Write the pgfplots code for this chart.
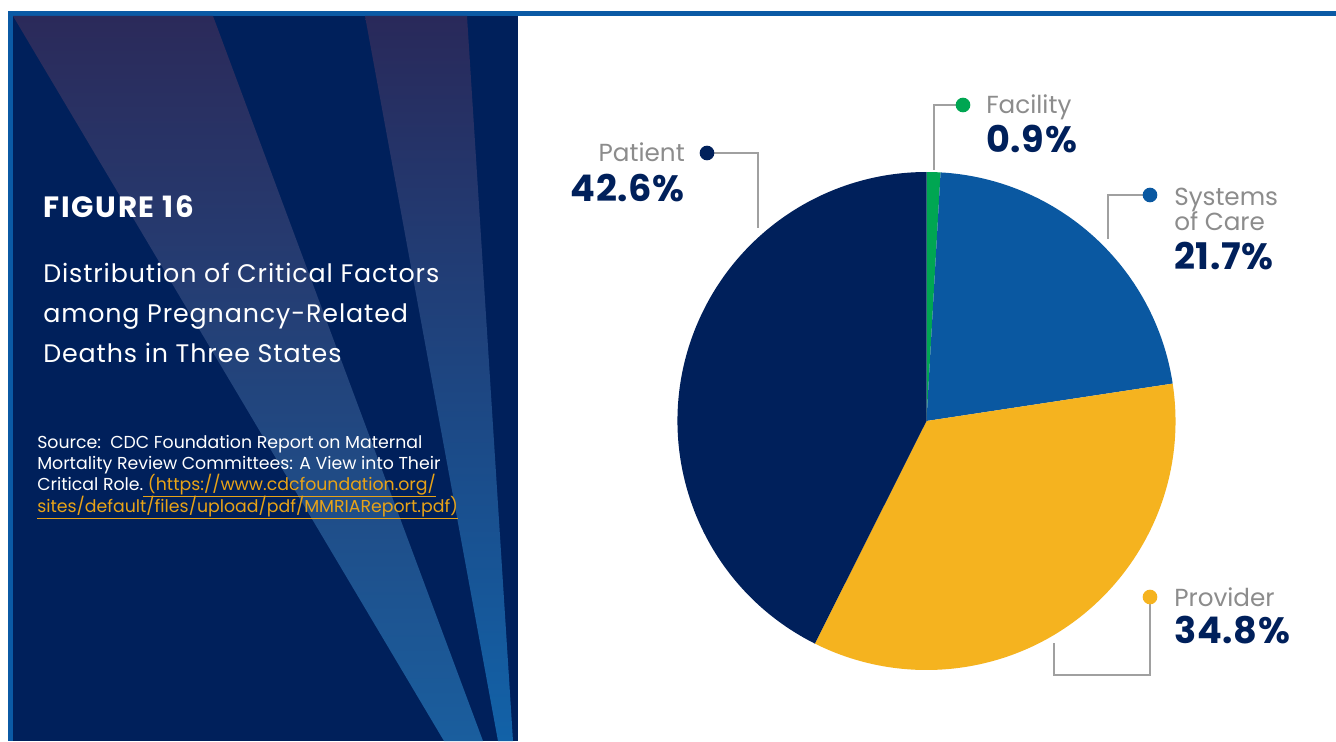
\documentclass[border=0pt]{standalone}
\usepackage{pgfplots}
\pgfplotsset{compat=1.18}
\usepackage{pgfplotstable}
\usepackage{fontspec}
\setmainfont{Poppins}
\newfontfamily\widefont{Poppins}[LetterSpace=3.5]
\newfontfamily\figfont{Poppins}[LetterSpace=6]
\newfontfamily\pctfont{Poppins}[LetterSpace=2]

\definecolor{navy}{HTML}{00205B}
\definecolor{topblue}{HTML}{0B5AA5}
\definecolor{pieblue}{HTML}{0A58A1}
\definecolor{pieyellow}{HTML}{F5B31F}
\definecolor{piegreen}{HTML}{00A652}
\definecolor{labgray}{HTML}{8C8C8C}
\definecolor{leader}{HTML}{A0A0A0}
\definecolor{linkgold}{HTML}{E8A317}
\definecolor{beamtop}{HTML}{2B2A5A}
\definecolor{beambot}{HTML}{1A5E9E}
\definecolor{beamtoptwo}{HTML}{29295A}
\definecolor{beambottwo}{HTML}{1262A8}

\tikzset{lbl/.style={inner sep=0pt}}

% slices clockwise from 12 o'clock
\pgfplotstableread{
label value color
Facility 0.9 piegreen
Systems 21.7 pieblue
Provider 34.8 pieyellow
Patient 42.6 navy
}\piedata

\begin{document}
\begin{tikzpicture}
\begin{axis}[
    scale only axis,
    width=1002pt, height=555.75pt,
    xmin=0, xmax=1336, ymin=0, ymax=741,
    y dir=reverse,
    hide axis,
    clip=false,
  ]
  % page and left panel
  \fill[white] (axis cs:0,0) rectangle (axis cs:1336,741);
  \fill[topblue] (axis cs:8,11) rectangle (axis cs:1336,16);
  \fill[topblue] (axis cs:8,11) rectangle (axis cs:13,741);
  \fill[navy] (axis cs:13,16) rectangle (axis cs:518,741);
  \shade[top color=beamtop, bottom color=beambot]
    (axis cs:13,16) -- (axis cs:213,16) -- (axis cs:483,741) -- (axis cs:444,741) -- cycle;
  \shade[top color=beamtoptwo, bottom color=beambottwo]
    (axis cs:365,16) -- (axis cs:467,16) -- (axis cs:513,741) -- (axis cs:498,741) -- cycle;

  \node[lbl, anchor=base west, text=white, font=\figfont\bfseries\fontsize{22}{26}\selectfont] at (axis cs:43,217) {FIGURE 16};
  \node[lbl, anchor=base west, text=white, font=\widefont\fontsize{19}{23}\selectfont] at (axis cs:43,282) {Distribution of Critical Factors};
  \node[lbl, anchor=base west, text=white, font=\widefont\fontsize{19}{23}\selectfont] at (axis cs:43,322) {among Pregnancy-Related};
  \node[lbl, anchor=base west, text=white, font=\widefont\fontsize{19}{23}\selectfont] at (axis cs:43,362) {Deaths in Three States};

  \node[lbl, anchor=base west, text=white, font=\fontsize{13}{15}\selectfont] at (axis cs:37,448) {Source:\ \ CDC Foundation Report on Maternal};
  \node[lbl, anchor=base west, text=white, font=\fontsize{13}{15}\selectfont] at (axis cs:37,469) {Mortality Review Committees: A View into Their};
  \node[lbl, anchor=base west, text=white, font=\fontsize{13}{15}\selectfont] at (axis cs:37,490) {Critical Role.\textcolor{linkgold}{\underline{\ (https://www.cdcfoundation.org/}}};
  \node[lbl, anchor=base west, text=linkgold, font=\fontsize{13}{15}\selectfont] at (axis cs:37,512) {\underline{sites/default/files/upload/pdf/MMRIAReport.pdf)}};

  % pie slices from the table
  \def\astart{90}
  \pgfplotsforeachungrouped \i in {0,...,3}{
    \pgfplotstablegetelem{\i}{value}\of\piedata
    \let\slicev\pgfplotsretval
    \pgfplotstablegetelem{\i}{color}\of\piedata
    \let\slicecol\pgfplotsretval
    \pgfmathsetmacro\aend{\astart-3.6*\slicev}
    \edef\temp{\noexpand\fill[\slicecol] (axis cs:926.5,421) -- ++(\astart:186.75pt)
      arc[start angle=\astart, end angle=\aend, radius=186.75pt] -- cycle;}
    \temp
    \let\astart\aend
  }

  % leader lines
  \draw[leader, line width=1pt] (axis cs:707,153) -- (axis cs:758,153) -- (axis cs:758,228);
  \draw[leader, line width=1pt] (axis cs:963,105) -- (axis cs:934,105) -- (axis cs:934,170);
  \draw[leader, line width=1pt] (axis cs:1150,195) -- (axis cs:1108,195) -- (axis cs:1108,239);
  \draw[leader, line width=1pt] (axis cs:1150,597) -- (axis cs:1150,675) -- (axis cs:1054,675) -- (axis cs:1054,643);
  \fill[navy] (axis cs:707,153) circle[radius=5.5pt];
  \fill[piegreen] (axis cs:963,105) circle[radius=5.5pt];
  \fill[pieblue] (axis cs:1150,195) circle[radius=5.5pt];
  \fill[pieyellow] (axis cs:1150,597) circle[radius=5.5pt];

  % labels
  \node[lbl, anchor=base east, text=labgray, font=\fontsize{18.5}{22}\selectfont] at (axis cs:685,162) {Patient};
  \node[lbl, anchor=base east, text=navy, font=\pctfont\bfseries\fontsize{27.5}{31}\selectfont] at (axis cs:685,201) {42.6\%};
  \node[lbl, anchor=base west, text=labgray, font=\fontsize{18.5}{22}\selectfont] at (axis cs:986,114) {Facility};
  \node[lbl, anchor=base west, text=navy, font=\pctfont\bfseries\fontsize{27.5}{31}\selectfont] at (axis cs:986,153) {0.9\%};
  \node[lbl, anchor=base west, text=labgray, font=\fontsize{18.5}{22}\selectfont] at (axis cs:1174,205) {Systems};
  \node[lbl, anchor=base west, text=labgray, font=\fontsize{18.5}{22}\selectfont] at (axis cs:1174,230) {of Care};
  \node[lbl, anchor=base west, text=navy, font=\pctfont\bfseries\fontsize{27.5}{31}\selectfont] at (axis cs:1174,269) {21.7\%};
  \node[lbl, anchor=base west, text=labgray, font=\fontsize{18.5}{22}\selectfont] at (axis cs:1174,606) {Provider};
  \node[lbl, anchor=base west, text=navy, font=\pctfont\bfseries\fontsize{27.5}{31}\selectfont] at (axis cs:1174,643) {34.8\%};
\end{axis}
\end{tikzpicture}
\end{document}
